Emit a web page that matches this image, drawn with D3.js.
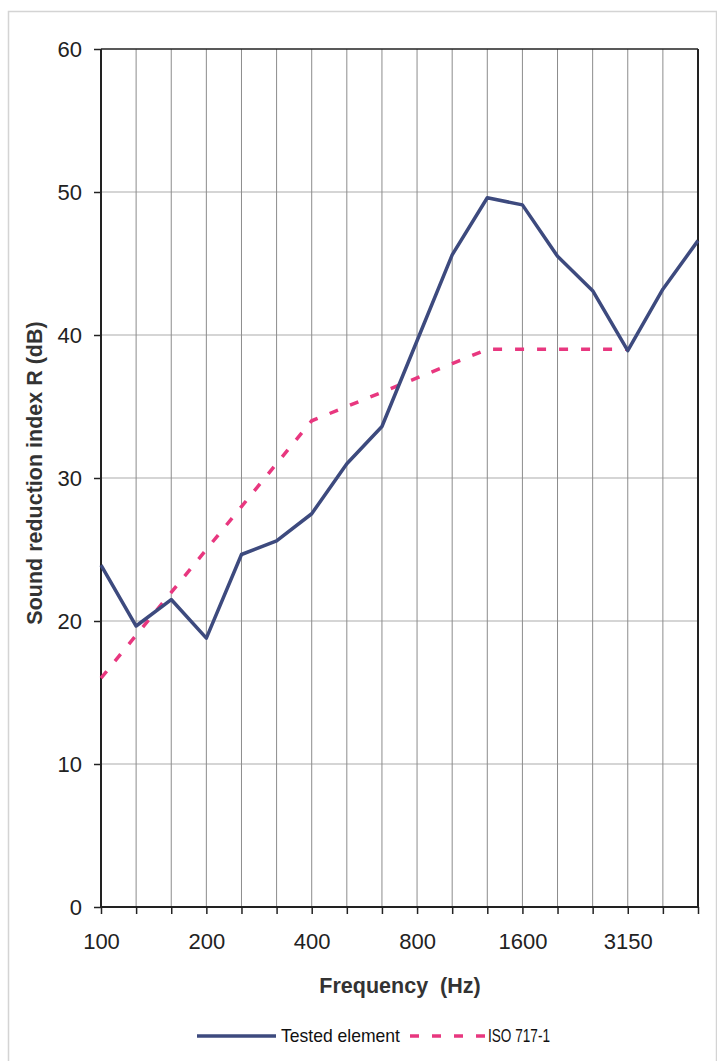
<!DOCTYPE html>
<html><head><meta charset="utf-8">
<script src="https://cdn.jsdelivr.net/npm/d3@7"></script>
<style>body{margin:0;background:#fff}svg{display:block}</style>
</head><body>
<svg id="c" width="717" height="1061"></svg>
<script>
const frequencies = ["100","125","160","200","250","315","400","500","630","800","1000","1250","1600","2000","2500","3150","4000","5000"];
const testedElement = [23.9,19.65,21.5,18.8,24.65,25.6,27.5,31.0,33.6,39.6,45.6,49.6,49.1,45.5,43.1,38.9,43.2,46.6];
const isoFrequencies = ["100","125","160","200","250","315","400","500","630","800","1000","1250","1600","2000","2500","3150"];
const iso7171 = [16,19,22,25,28,31,34,35,36,37,38,39,39,39,39,39];
const xTickLabels = ["100","200","400","800","1600","3150"];
const yTicks = [0,10,20,30,40,50,60];

const svg = d3.select("#c");
const L=101, R=698, T=49, B=907;
const x = d3.scalePoint().domain(frequencies).range([L,R]);
const y = d3.scaleLinear().domain([0,60]).range([B,T]);
const FONT = "Liberation Sans, Arial, sans-serif";

// outer frame
svg.append("rect").attr("x",8.5).attr("y",11.5).attr("width",708).attr("height",1070)
  .attr("fill","none").attr("stroke","#d4d4d4").attr("stroke-width",1.5);

// gridlines
svg.append("g").selectAll("line").data(yTicks.slice(1,-1)).join("line")
  .attr("x1",L).attr("x2",R).attr("y1",d=>y(d)).attr("y2",d=>y(d))
  .attr("stroke","#ababab").attr("stroke-width",1);
svg.append("g").selectAll("line").data(frequencies.slice(1,-1)).join("line")
  .attr("x1",d=>x(d)).attr("x2",d=>x(d)).attr("y1",T).attr("y2",B)
  .attr("stroke","#8c8c8c").attr("stroke-width",1);

// plot border
svg.append("line").attr("x1",L).attr("x2",R).attr("y1",T).attr("y2",T).attr("stroke","#222").attr("stroke-width",1.5);
svg.append("line").attr("x1",R).attr("x2",R).attr("y1",T).attr("y2",B).attr("stroke","#222").attr("stroke-width",2);

// axes
const xAxis = d3.axisBottom(x).tickSize(7).tickPadding(19)
  .tickFormat(d=>xTickLabels.includes(d)?d:"");
const gx = svg.append("g").attr("transform",`translate(0,${B})`).call(xAxis);
gx.select(".domain").attr("stroke","#222").attr("stroke-width",2).attr("d",`M${L},0H${R}`);
gx.selectAll(".tick line").attr("stroke","#222").attr("stroke-width",1.5);
gx.selectAll("text").attr("font-family",FONT).attr("font-size",22).attr("fill","#222");

const yAxis = d3.axisLeft(y).tickValues(yTicks).tickSize(7).tickPadding(12);
const gy = svg.append("g").attr("transform",`translate(${L},0)`).call(yAxis);
gy.select(".domain").attr("stroke","#222").attr("stroke-width",2).attr("d",`M0,${T}V${B}`);
gy.selectAll(".tick line").attr("stroke","#222").attr("stroke-width",1.5);
gy.selectAll("text").attr("font-family",FONT).attr("font-size",22).attr("fill","#222");

// lines
const line = d3.line().x(d=>x(d[0])).y(d=>y(d[1]));
svg.append("path").datum(isoFrequencies.map((f,i)=>[f,iso7171[i]]))
  .attr("d",line).attr("fill","none").attr("stroke","#e8377f").attr("stroke-width",3.5)
  .attr("stroke-dasharray","9,13");
svg.append("path").datum(frequencies.map((f,i)=>[f,testedElement[i]]))
  .attr("d",line).attr("fill","none").attr("stroke","#3d4a7e").attr("stroke-width",3.5)
  .attr("stroke-linejoin","round");

// titles
svg.append("text").attr("x",400).attr("y",993).attr("text-anchor","middle")
  .attr("font-family",FONT).attr("font-weight","bold").attr("font-size",21.5)
  .attr("fill","#333").attr("xml:space","preserve").text("Frequency  (Hz)");
svg.append("text").attr("transform","translate(42,473) rotate(-90)").attr("text-anchor","middle")
  .attr("font-family",FONT).attr("font-weight","bold").attr("font-size",21.5)
  .attr("fill","#333").text("Sound reduction index R (dB)");

// legend
const lg = svg.append("g");
lg.append("line").attr("x1",197).attr("x2",276).attr("y1",1036).attr("y2",1036)
  .attr("stroke","#3d4a7e").attr("stroke-width",3.5);
lg.append("text").attr("x",281).attr("y",1042).attr("font-family",FONT)
  .attr("font-size",19).attr("fill","#111").attr("textLength",119).attr("lengthAdjust","spacingAndGlyphs")
  .text("Tested element");
lg.append("line").attr("x1",410).attr("x2",486).attr("y1",1036).attr("y2",1036)
  .attr("stroke","#e8377f").attr("stroke-width",3.5).attr("stroke-dasharray","9,13");
lg.append("text").attr("x",488).attr("y",1042).attr("font-family",FONT)
  .attr("font-size",19).attr("fill","#111").attr("textLength",62).attr("lengthAdjust","spacingAndGlyphs")
  .text("ISO 717-1");
</script>
</body></html>
